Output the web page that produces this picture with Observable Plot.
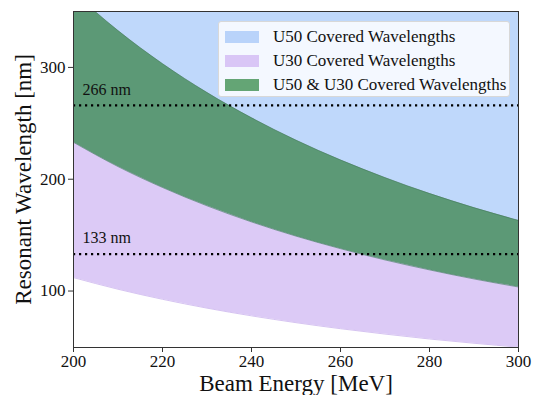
<!DOCTYPE html>
<html>
<head>
<meta charset="utf-8">
<script src="https://cdn.jsdelivr.net/npm/d3@7"></script>
<script src="https://cdn.jsdelivr.net/npm/@observablehq/plot@0.6"></script>
<style>
  body { margin: 0; background: #fff; }
  #wrap { position: relative; width: 534px; height: 395px; font-family: "Liberation Serif", "DejaVu Serif", serif; }
  #legend { position: absolute; left: 218px; top: 21px; width: 292px; height: 76px; background: rgba(255,255,255,0.82); border: 1px solid #d8d8d8; border-radius: 3px; box-sizing: border-box; padding-top: 3px; }
  .row { display: flex; align-items: center; height: 24px; font-size: 17px; color: #111; }
  .sw { width: 34px; height: 12px; margin-left: 6px; margin-right: 14px; box-sizing: border-box; }
</style>
</head>
<body>
<div id="wrap"></div>
<script>
// Beam energy [MeV]
const energy = [200, 210, 220, 230, 240, 250, 260, 270, 280, 290, 300];
// U30 covered range (lower / upper edge) [nm]
const u30Lower = [112, 101.6, 92.6, 84.7, 77.8, 71.7, 66.3, 61.5, 57.1, 53.3, 49.8];
const u30Upper = [367, 332.9, 303.3, 277.5, 254.9, 234.9, 217.2, 201.4, 187.2, 174.5, 163.1];
// U50 covered range (lower / upper edge) [nm]
const u50Lower = [233, 211.3, 192.6, 176.2, 161.8, 149.1, 137.9, 127.8, 118.9, 110.8, 103.6];
const u50Upper = [820, 743.8, 677.7, 620.0, 569.4, 524.8, 485.2, 449.9, 418.4, 390.0, 364.4];
// Reference wavelengths
const refLines = [266, 133];
const refLabels = ["266 nm", "133 nm"];
const legendLabels = ["U50 Covered Wavelengths", "U30 Covered Wavelengths", "U50 & U30 Covered Wavelengths"];
const legendColors = ["#b9d3fa", "#d9c6f6", "#64a575"];

const rows = energy.map((e, i) => ({
  e,
  u30lo: u30Lower[i], u30hi: u30Upper[i],
  u50lo: u50Lower[i], u50hi: u50Upper[i],
  ovlo: Math.max(u30Lower[i], u50Lower[i]), ovhi: Math.min(u30Upper[i], u50Upper[i])
}));
const refs = refLines.map((v, i) => ({ v, label: refLabels[i] }));

const font = "Liberation Serif";
const chart = Plot.plot({
  width: 534,
  height: 395,
  marginLeft: 73,
  marginRight: 16,
  marginTop: 11,
  marginBottom: 48,
  style: { fontFamily: font, background: "transparent" },
  x: { domain: [200, 300], label: null },
  y: { domain: [49.5, 350], label: null },
  marks: [
    Plot.areaY(rows, { x: "e", y1: "u50lo", y2: "u50hi", fill: "#bfd8fb", curve: "monotone-x", clip: true }),
    Plot.areaY(rows, { x: "e", y1: "u30lo", y2: "u30hi", fill: "#dccaf6", curve: "monotone-x", clip: true }),
    Plot.areaY(rows, { x: "e", y1: "ovlo", y2: "ovhi", fill: "#5c9976", curve: "monotone-x", clip: true }),
    Plot.lineY(rows, { x: "e", y: "u30lo", stroke: "#cbb5ee", strokeWidth: 0.8, curve: "monotone-x", clip: true }),
    Plot.lineY(rows, { x: "e", y: "u50lo", stroke: "#3f7a5c", strokeWidth: 0.6, curve: "monotone-x", clip: true }),
    Plot.lineY(rows, { x: "e", y: "u30hi", stroke: "#3f7a5c", strokeWidth: 0.6, curve: "monotone-x", clip: true }),
    Plot.ruleY(refs, { y: "v", stroke: "#000", strokeWidth: 2.2, strokeDasharray: "2.2,3.8" }),
    Plot.text(refs, { x: () => 200, y: "v", text: "label", textAnchor: "start", lineAnchor: "middle", dx: 9, dy: -16, fontSize: 16, fill: "#111" }),
    Plot.frame({ stroke: "#333", strokeWidth: 1 }),
    Plot.axisX({ ticks: [200, 220, 240, 260, 280, 300], tickSize: 5, tickPadding: 2, fontSize: 17, stroke: "#333", color: "#111", label: null }),
    Plot.axisY({ ticks: [100, 200, 300], tickSize: 5, tickPadding: 3, fontSize: 17, stroke: "#333", color: "#111", label: null }),
    Plot.text(["Beam Energy [MeV]"], { frameAnchor: "bottom", textAnchor: "middle", lineAnchor: "middle", dy: 36, fontSize: 23, fill: "#111" }),
    Plot.text(["Resonant Wavelength [nm]"], { frameAnchor: "left", textAnchor: "middle", lineAnchor: "middle", dx: -50, rotate: -90, fontSize: 23, fill: "#111" })
  ]
});

const wrap = document.getElementById("wrap");
wrap.appendChild(chart);
const lg = document.createElement("div");
lg.id = "legend";
legendLabels.forEach((t, i) => {
  const r = document.createElement("div");
  r.className = "row";
  const s = document.createElement("div");
  s.className = "sw";
  s.style.background = legendColors[i];
  const l = document.createElement("span");
  l.textContent = t;
  r.appendChild(s); r.appendChild(l);
  lg.appendChild(r);
});
wrap.appendChild(lg);
</script>
</body>
</html>
